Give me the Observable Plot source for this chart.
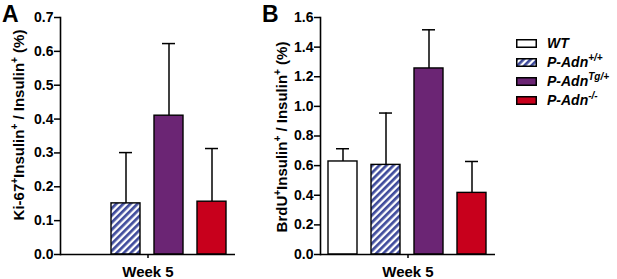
<!DOCTYPE html>
<html><head><meta charset="utf-8">
<script src="https://cdn.jsdelivr.net/npm/d3@7"></script>
<script src="https://cdn.jsdelivr.net/npm/@observablehq/plot@0.6"></script>
<style>
body{margin:0;background:#fff;font-family:"Liberation Sans",Arial,sans-serif;}
#wrap{position:relative;width:617px;height:279px;overflow:hidden;}
.panel{position:absolute;top:0;}
.panel svg text{font-size:14px;font-weight:bold;font-family:"Liberation Sans",Arial,sans-serif;}
.panel svg g[aria-label^="fx-axis"] text{font-size:15px;}
.panel svg text.ytitle{font-size:15px;}
.panel svg text.ytitle tspan.sup{font-size:10px;}
.plabel{position:absolute;font-weight:bold;font-size:23px;line-height:1;}
#legend{position:absolute;left:516px;top:35px;font-weight:bold;font-style:italic;font-size:14px;}
.row{position:relative;height:19px;}
.row svg{position:absolute;left:0;top:4px;}
.row span{position:absolute;left:31px;top:0;white-space:nowrap;}
.row sup{font-size:10px;vertical-align:6px;line-height:0;}
</style></head>
<body>
<svg width="0" height="0" style="position:absolute">
  <defs>
    <pattern id="hatch" patternUnits="userSpaceOnUse" width="5" height="5" patternTransform="rotate(45)">
      <rect width="5" height="5" fill="#ffffff"/>
      <rect width="2.7" height="5" fill="#3f4b9c"/>
    </pattern>
  </defs>
</svg>
<div id="wrap">
  <div id="pa" class="panel" style="left:0"></div>
  <div id="pb" class="panel" style="left:260px"></div>
  <div class="plabel" style="left:2px;top:3px">A</div>
  <div class="plabel" style="left:262px;top:3px">B</div>
  <div id="legend"></div>
</div>
<script>
// ---- data ----
const genotypes = ["WT", "P-Adn+/+", "P-AdnTg/+", "P-Adn-/-"];
const genotypeBase = ["WT", "P-Adn", "P-Adn", "P-Adn"];
const genotypeSup = ["", "+/+", "Tg/+", "-/-"];
const week = "Week 5";
const ki67Mean = [null, 0.151, 0.410, 0.156];
const ki67Sem  = [null, 0.150, 0.213, 0.157];
const brduMean = [0.628, 0.605, 1.256, 0.416];
const brduSem  = [0.086, 0.350, 0.261, 0.212];
const ki67Ticks = [0, 0.1, 0.2, 0.3, 0.4, 0.5, 0.6, 0.7];
const brduTicks = [0, 0.2, 0.4, 0.6, 0.8, 1.0, 1.2, 1.4, 1.6];
const fills = ["#ffffff", "url(#hatch)", "#6b2574", "#c8001c"];

function panel(means, sems, ticks, opts) {
  const rows = genotypes.map((g, i) => ({genotype: g, week, mean: means[i], top: means[i] == null ? null : means[i] + sems[i]}))
    .filter(d => d.mean != null);
  const chart = Plot.plot({
    width: opts.width, height: 279,
    marginLeft: 60, marginRight: opts.marginRight, marginTop: 17, marginBottom: 25,
    style: {fontFamily: "'Liberation Sans', Arial, sans-serif", fontWeight: "bold", fontSize: "14px", background: "transparent", color: "#000"},
    fx: {domain: [week], padding: 0, label: null},
    x: {domain: genotypes, paddingInner: 0.318, paddingOuter: 0.148, axis: null},
    y: {domain: [ticks[0], ticks[ticks.length - 1]]},
    color: {domain: genotypes, range: fills},
    marks: [
      Plot.ruleX(rows, {fx: "week", x: "genotype", y1: "mean", y2: "top", stroke: "#000", strokeWidth: 1.5}),
      Plot.tickY(rows, {fx: "week", x: "genotype", y: "top", stroke: "#000", strokeWidth: 1.5, insetLeft: 8, insetRight: 8}),
      Plot.barY(rows, {fx: "week", x: "genotype", y: "mean", fill: "genotype", stroke: "#000", strokeWidth: 1.4}),
      Plot.axisY({ticks, tickSize: 6, tickPadding: 1, tickFormat: d3.format(".1f"), label: null, strokeWidth: 1.5}),
      Plot.frame({anchor: "left", stroke: "#000", strokeWidth: 1.6}),
      Plot.ruleY([0], {stroke: "#000", strokeWidth: 1.6}),
      Plot.axisFx({anchor: "bottom", tickSize: 4, tickPadding: 8, label: null, strokeWidth: 1.5})
    ]
  });
  // rotated y-axis title with superscripts
  const t = d3.select(chart).append("text")
    .attr("class", "ytitle")
    .attr("transform", `translate(${opts.labelX},${opts.labelY}) rotate(-90)`)
    .attr("text-anchor", "middle");
  opts.title.forEach(([txt, sup], i) => {
    const s = t.append("tspan").text(txt);
    if (i > 0 && opts.title[i - 1][1]) s.attr("dy", 6);
    if (sup) t.append("tspan").attr("class", "sup").attr("dy", -6).text(sup);
  });
  return chart;
}

document.getElementById("pa").appendChild(panel(ki67Mean, ki67Sem, ki67Ticks, {
  width: 260, marginRight: 25, labelX: 24, labelY: 125,
  title: [["Ki-67", "+"], ["Insulin", "+"], [" / Insulin", "+"], [" (%)", null]]
}));
document.getElementById("pb").appendChild(panel(brduMean, brduSem, brduTicks, {
  width: 240, marginRight: 5, labelX: 27, labelY: 137,
  title: [["BrdU", "+"], ["Insulin", "+"], [" / Insulin", "+"], [" (%)", null]]
}));

// legend
const legend = document.getElementById("legend");
genotypes.forEach((g, i) => {
  const row = document.createElement("div");
  row.className = "row";
  row.innerHTML = `<svg width="21" height="9"><rect x="0.75" y="0.75" width="19.5" height="7.5" fill="${fills[i]}" stroke="#000" stroke-width="1.5"/></svg>` +
    `<span>${genotypeBase[i]}${genotypeSup[i] ? "<sup>" + genotypeSup[i] + "</sup>" : ""}</span>`;
  legend.appendChild(row);
});
</script>
</body></html>
